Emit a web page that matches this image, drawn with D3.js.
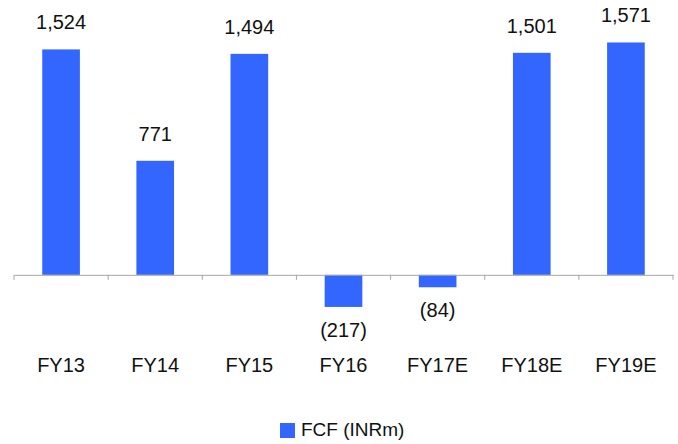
<!DOCTYPE html>
<html>
<head>
<meta charset="utf-8">
<script src="https://cdn.jsdelivr.net/npm/d3@7"></script>
<style>
  body { margin: 0; background: #fff; }
  text { font-family: "Liberation Sans", Arial, sans-serif; fill: #111; }
</style>
</head>
<body>
<script>
// chart data
var categories = ["FY13", "FY14", "FY15", "FY16", "FY17E", "FY18E", "FY19E"];
var fcf = [1524, 771, 1494, -217, -84, 1501, 1571];
var seriesName = "FCF (INRm)";

var width = 678,
    height = 444;

var barColor = "#3366ff";

var svg = d3.select("body")
            .append("svg")
            .attr("width", width)
            .attr("height", height);

var x = d3.scaleBand()
    .domain(categories)
    .range([14, 673])
    .paddingInner(0.6)
    .paddingOuter(0.3);

var y = d3.scaleLinear()
    .domain([-400, 1800])
    .range([334, 8.6]);

var fmt = function(v) {
    var s = d3.format(",")(Math.abs(v));
    return v < 0 ? "(" + s + ")" : s;
};

// bars
svg.append("g")
  .selectAll("rect")
  .data(fcf)
  .enter().append("rect")
    .attr("x", function(d, i) { return x(categories[i]); })
    .attr("width", x.bandwidth())
    .attr("y", function(d) { return y(Math.max(0, d)); })
    .attr("height", function(d) { return Math.abs(y(d) - y(0)); })
    .attr("fill", barColor);

// axis along zero
var axis = svg.append("g")
    .attr("transform", "translate(0," + y(0) + ")")
    .call(d3.axisBottom(x).tickSize(0).tickFormat(""));
axis.select(".domain").attr("stroke", "#a6a6a6").attr("stroke-width", 1);

// category ticks between bands
var step = x.step();
var edges = d3.range(categories.length + 1).map(function(i) { return x.range()[0] + i * step; });
axis.selectAll("line.sep")
  .data(edges)
  .enter().append("line")
    .attr("class", "sep")
    .attr("x1", function(d) { return d; })
    .attr("x2", function(d) { return d; })
    .attr("y1", 0)
    .attr("y2", 5)
    .attr("stroke", "#a6a6a6");

// category labels
svg.append("g")
  .selectAll("text")
  .data(categories)
  .enter().append("text")
    .attr("x", function(d) { return x(d) + x.bandwidth() / 2; })
    .attr("y", 372)
    .attr("text-anchor", "middle")
    .attr("font-size", 20)
    .text(function(d) { return d; });

// value labels
svg.append("g")
  .selectAll("text")
  .data(fcf)
  .enter().append("text")
    .attr("x", function(d, i) { return x(categories[i]) + x.bandwidth() / 2; })
    .attr("y", function(d) { return d >= 0 ? y(d) - 20 : y(d) + 30; })
    .attr("text-anchor", "middle")
    .attr("font-size", 20)
    .text(fmt);

// legend
var legend = svg.append("g").attr("transform", "translate(280,423)");
legend.append("rect")
    .attr("width", 15)
    .attr("height", 15)
    .attr("fill", barColor);
legend.append("text")
    .attr("x", 21)
    .attr("y", 13)
    .attr("font-size", 19)
    .text(seriesName);
</script>
</body>
</html>
